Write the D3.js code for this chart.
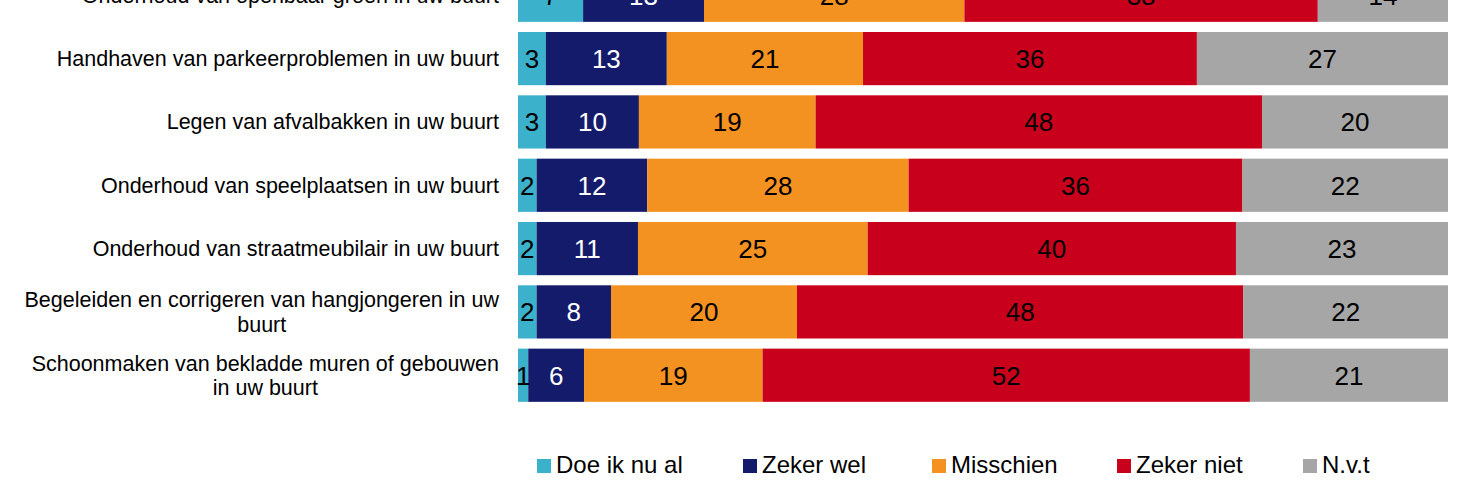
<!DOCTYPE html>
<html>
<head>
<meta charset="utf-8">
<script src="https://cdn.jsdelivr.net/npm/d3@7"></script>
<style>
  html, body { margin: 0; padding: 0; background: #fff; }
  svg { display: block; font-family: "Liberation Sans", Arial, Helvetica, sans-serif; }
</style>
</head>
<body>
<svg id="chart" width="1479" height="489"></svg>
<script>
const categories = [
  ["Onderhoud van openbaar groen in uw buurt"],
  ["Handhaven van parkeerproblemen in uw buurt"],
  ["Legen van afvalbakken in uw buurt"],
  ["Onderhoud van speelplaatsen in uw buurt"],
  ["Onderhoud van straatmeubilair in uw buurt"],
  ["Begeleiden en corrigeren van hangjongeren in uw", "buurt"],
  ["Schoonmaken van bekladde muren of gebouwen", "in uw buurt"]
];
const seriesNames = ["Doe ik nu al", "Zeker wel", "Misschien", "Zeker niet", "N.v.t"];
const doeIkNuAl = [7.0, 3.0, 3.0, 2.0, 2.0, 2.0, 1.1];
const zekerWel  = [13.0, 13.0, 10.0, 11.9, 10.9, 8.0, 6.0];
const misschien = [28.0, 21.1, 19.0, 28.1, 24.7, 20.0, 19.2];
const zekerNiet = [38.0, 35.9, 48.0, 35.9, 39.6, 48.0, 52.4];
const nvt       = [14.0, 27.0, 20.0, 22.1, 22.8, 22.0, 21.3];
const colors = ["#3CB1CC", "#131B6A", "#F39220", "#C8001C", "#A6A6A6"];
const textColors = ["#000", "#fff", "#000", "#000", "#000"];

const seriesValues = [doeIkNuAl, zekerWel, misschien, zekerNiet, nvt];

const svg = d3.select("#chart");
const x = d3.scaleLinear().domain([0, 100]).range([518, 1448]);
const y = d3.scaleBand().domain(d3.range(categories.length)).range([-36.4, 406.9])
  .paddingInner(0.16).paddingOuter(0.08);

const rows = categories.map((c, i) => {
  let acc = 0;
  return seriesValues.map((s, k) => {
    const seg = {row: i, k, v: s[i], x0: acc, x1: acc + s[i]};
    acc += s[i];
    return seg;
  });
});

const g = svg.append("g");
rows.forEach(segs => {
  segs.forEach(s => {
    g.append("rect")
      .attr("x", x(s.x0)).attr("y", y(s.row))
      .attr("width", x(s.x1) - x(s.x0)).attr("height", y.bandwidth())
      .attr("fill", colors[s.k]);
  });
  segs.forEach(s => {
    g.append("text")
      .attr("x", (x(s.x0) + x(s.x1)) / 2)
      .attr("y", y(s.row) + y.bandwidth() / 2)
      .attr("dy", "0.36em")
      .attr("text-anchor", "middle")
      .attr("font-size", 26)
      .attr("fill", textColors[s.k])
      .text(Math.round(s.v));
  });
});

// category labels (multi-line, lines centred, block right-aligned)
const labelRight = 499;
categories.forEach((lines, i) => {
  const cy = y(i) + y.bandwidth() / 2;
  const t = svg.append("text").attr("font-size", 21.5).attr("fill", "#000");
  const lh = 24.5;
  lines.forEach((ln, j) => {
    t.append("tspan").attr("x", 0).attr("y", cy + (j - (lines.length - 1) / 2) * lh).attr("dy", "0.35em").text(ln);
  });
  const widths = [];
  t.selectAll("tspan").each(function() { widths.push(this.getComputedTextLength()); });
  const maxW = d3.max(widths);
  const center = labelRight - maxW / 2;
  t.attr("text-anchor", "middle");
  t.selectAll("tspan").attr("x", center);
});

// legend
const legendX = [537, 743, 932, 1117, 1303];
const legend = svg.append("g");
seriesNames.forEach((n, k) => {
  legend.append("rect").attr("x", legendX[k]).attr("y", 459).attr("width", 14).attr("height", 14).attr("fill", colors[k]);
  legend.append("text").attr("x", legendX[k] + 19).attr("y", 472.5)
    .attr("font-size", 24).attr("fill", "#000").text(n);
});
</script>
</body>
</html>
